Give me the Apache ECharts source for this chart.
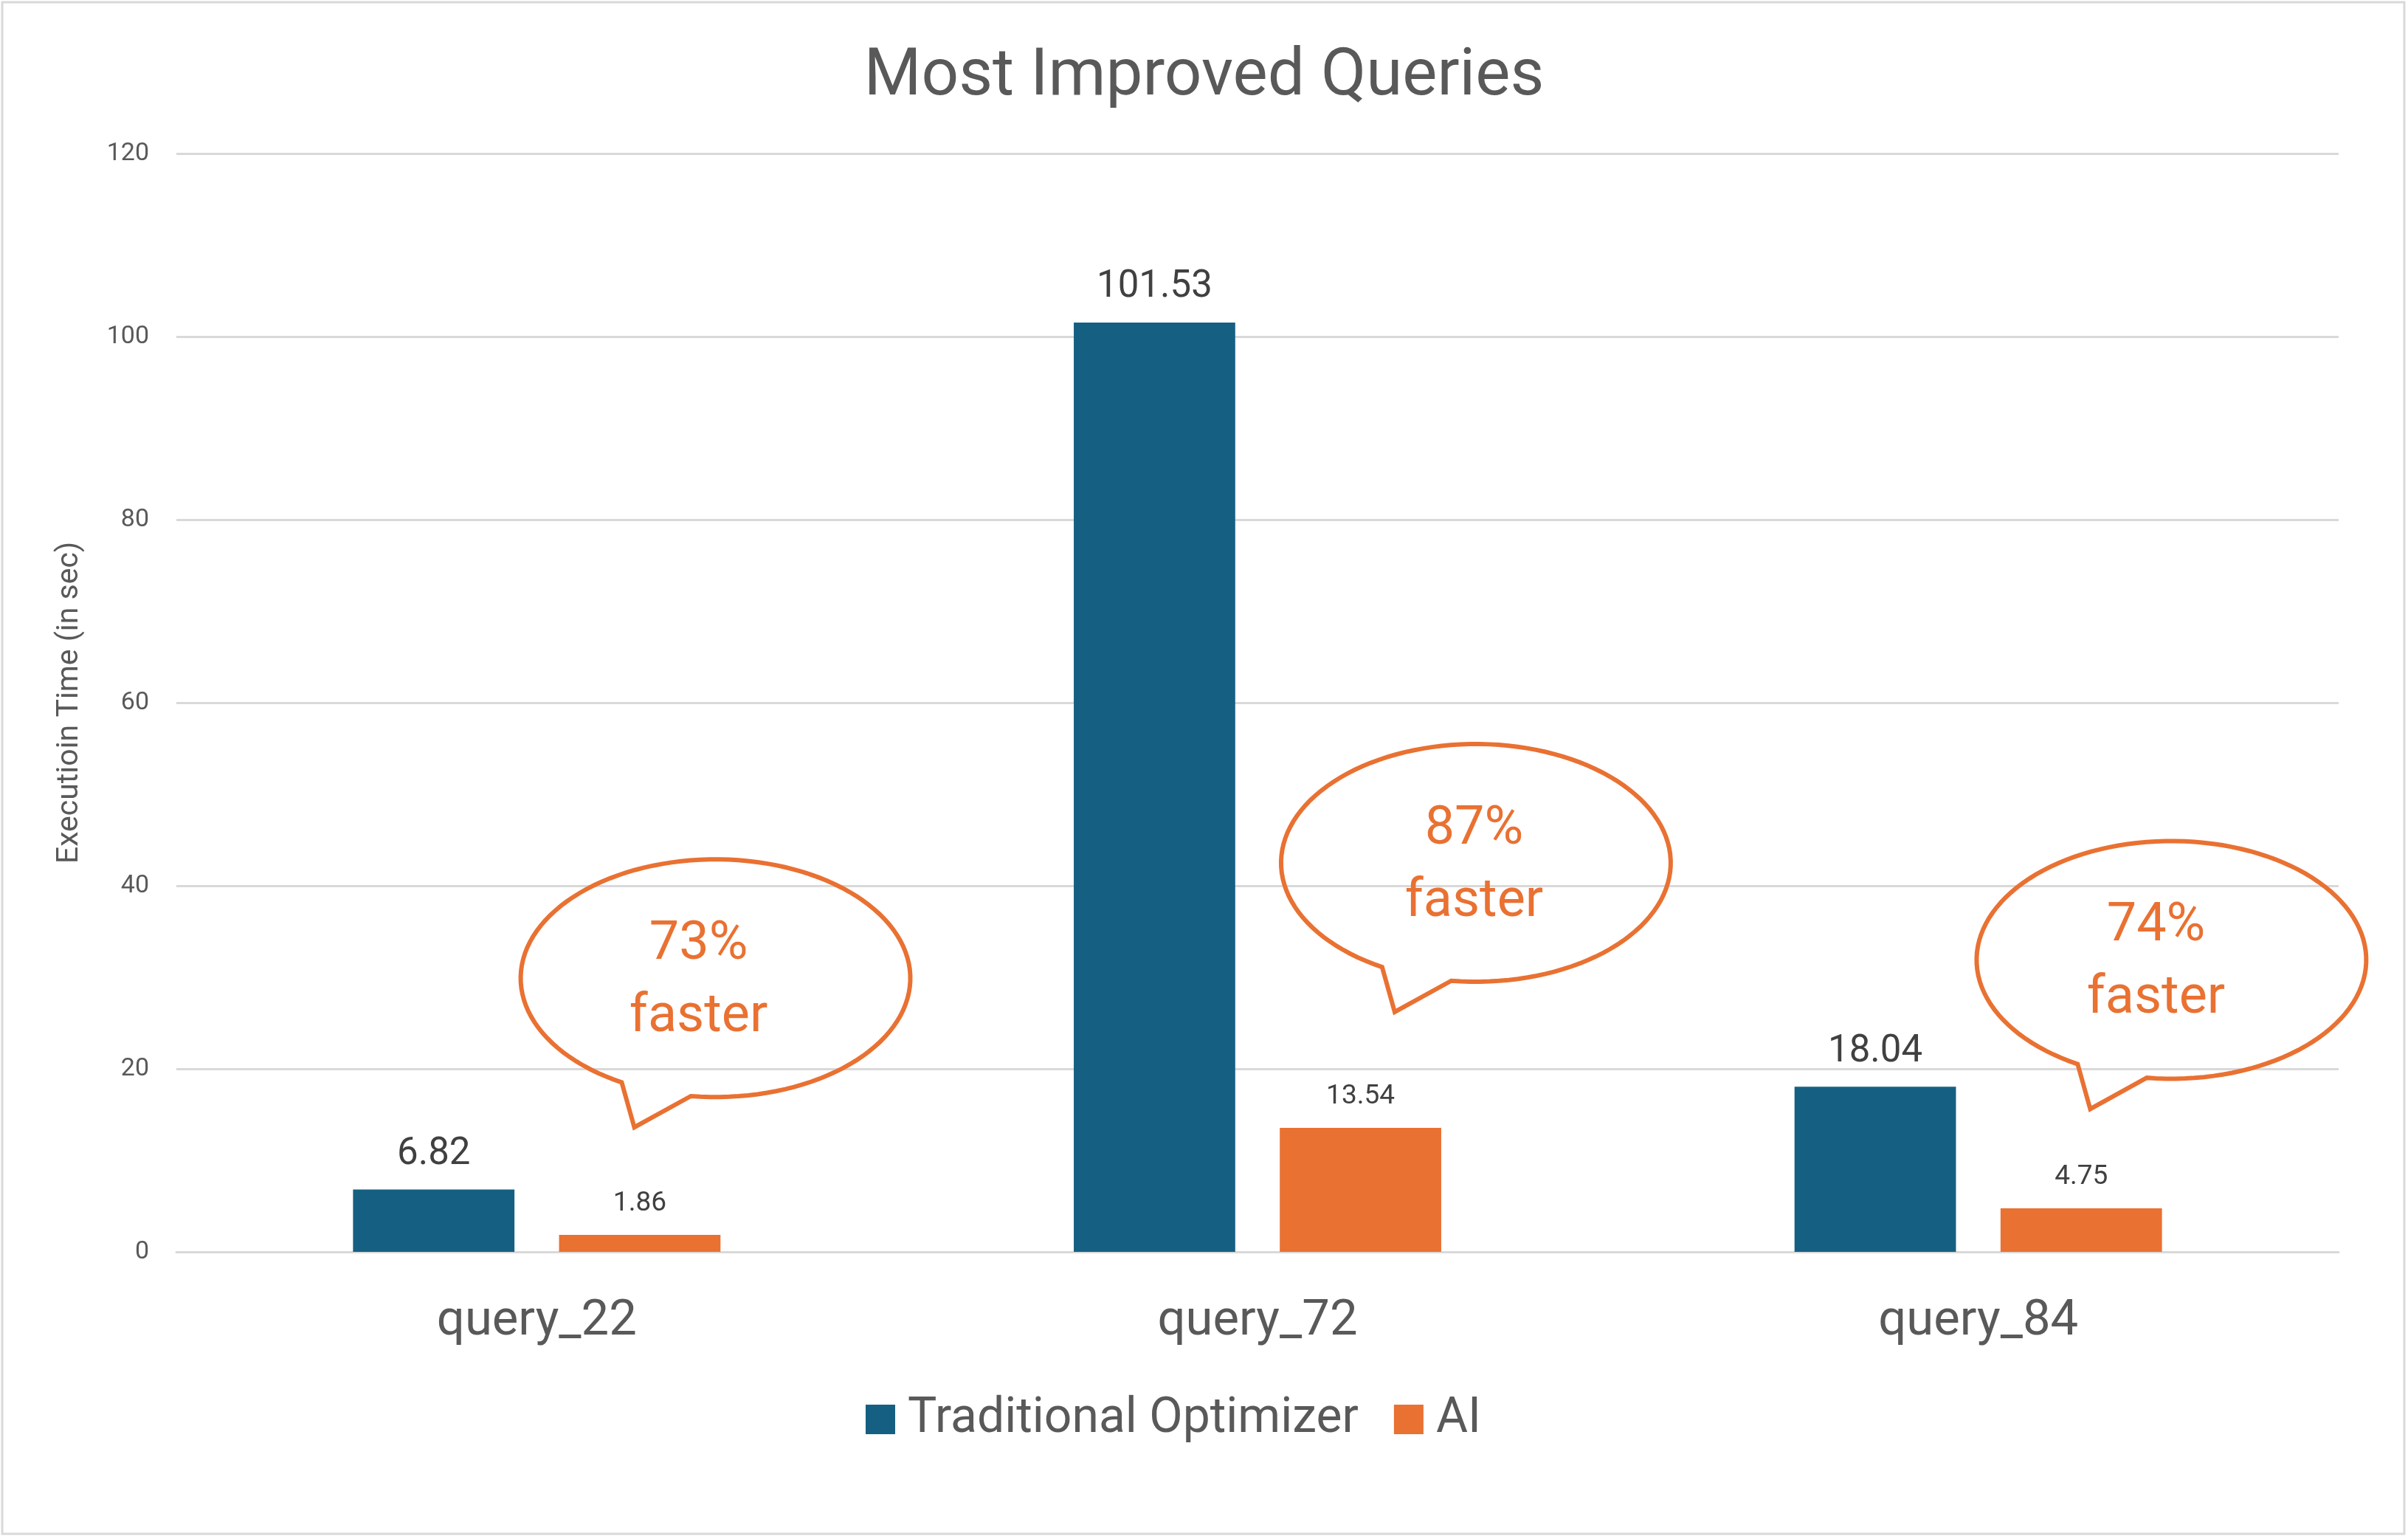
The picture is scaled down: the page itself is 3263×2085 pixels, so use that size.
<!DOCTYPE html>
<html><head><meta charset="utf-8">
<script src="https://cdn.jsdelivr.net/npm/echarts@6/dist/echarts.min.js"></script>
<style>html,body{margin:0;padding:0;background:#fff}#c{width:3263px;height:2085px}</style>
</head><body><div id="c"></div>
<script>
const categories = ['query_22', 'query_72', 'query_84'];
const traditional = [6.82, 101.53, 18.04];
const ai = [1.86, 13.54, 4.75];
const yMin = 0, yMax = 120, yStep = 20;
// speech-bubble annotations, anchored in axis units (x: category bands, y: seconds)
const bubbleX = [0.748, 1.803, 2.768];
const bubbleY = [29.9, 42.5, 31.9];
const bubbleTextX = [0.7245, 1.8005, 2.7466];
const bubbleLine1 = ['73%', '87%', '74%'];
const bubbleLine2 = ['faster', 'faster', 'faster'];

const FONT = 'Roboto, "Noto Sans", sans-serif';
const BLUE = '#156082', ORANGE = '#E97132', GREY = '#595959', LABEL = '#404040';

const chart = echarts.init(document.getElementById('c'));

function renderBubble(params, api) {
  const idx = api.value(2);
  const c = api.coord([api.value(0), api.value(1)]);
  const tc = api.coord([bubbleTextX[idx], api.value(1)]);
  const rx = 264, ry = 161;
  const A = [-127, 141], tip = [-110, 202], B = [-33, 158];
  const tA = Math.atan2(A[1] / ry, A[0] / rx);
  const tB = Math.atan2(B[1] / ry, B[0] / rx) + Math.PI * 2;
  const pts = [];
  const N = 120;
  for (let i = 0; i <= N; i++) {
    const t = tA + (tB - tA) * i / N;
    pts.push([c[0] + rx * Math.cos(t), c[1] + ry * Math.sin(t)]);
  }
  pts.push([c[0] + tip[0], c[1] + tip[1]]);
  return {
    type: 'group',
    children: [
      { type: 'polygon', shape: { points: pts },
        style: { fill: 'none', stroke: ORANGE, lineWidth: 6, lineJoin: 'miter' } },
      { type: 'text',
        style: { text: bubbleLine1[idx] + '\n' + bubbleLine2[idx], x: tc[0], y: c[1] + 5,
          align: 'center', verticalAlign: 'middle', fontSize: 72, lineHeight: 98,
          fill: ORANGE, fontFamily: FONT } }
    ]
  };
}

chart.setOption({
  animation: false,
  backgroundColor: '#ffffff',
  textStyle: { fontFamily: FONT },
  title: {
    text: 'Most Improved Queries', left: 'center', top: 56,
    textStyle: { fontSize: 89, fontWeight: 'normal', color: GREY, fontFamily: FONT }
  },
  graphic: [{
    type: 'rect', shape: { x: 3, y: 3, width: 3255, height: 2075 },
    style: { fill: 'none', stroke: '#D9D9D9', lineWidth: 3 }, silent: true
  }],
  legend: {
    data: ['Traditional Optimizer', 'AI'],
    left: 1168, top: 1885,
    itemWidth: 40, itemHeight: 40, itemGap: 48,
    icon: 'rect',
    textStyle: { fontSize: 66, color: GREY, fontFamily: FONT, padding: [0, 0, 0, 12] }
  },
  grid: { left: 239, right: 94, top: 208, bottom: 389, containLabel: false },
  xAxis: [{
    type: 'category', data: categories,
    axisLine: { lineStyle: { color: '#D9D9D9', width: 3 } },
    axisTick: { show: false },
    axisLabel: { fontSize: 67, color: GREY, margin: 62, fontFamily: FONT }
  }, {
    type: 'value', min: 0, max: 3, show: false
  }],
  yAxis: {
    type: 'value', min: yMin, max: yMax, interval: yStep,
    name: 'Executioin Time (in sec)', nameLocation: 'middle', nameGap: 124, nameRotate: 90,
    nameTextStyle: { fontSize: 41, color: GREY, fontFamily: FONT },
    axisLine: { show: false }, axisTick: { show: false },
    axisLabel: { fontSize: 34, color: GREY, margin: 37, fontFamily: FONT },
    splitLine: { lineStyle: { color: '#D9D9D9', width: 3 } }
  },
  series: [{
    name: 'Traditional Optimizer', type: 'bar', data: traditional,
    barWidth: '22.4%', barGap: '27.6%',
    itemStyle: { color: BLUE },
    label: { show: true, position: 'top', distance: 22, fontSize: 51, color: LABEL, fontFamily: FONT }
  }, {
    name: 'AI', type: 'bar', data: ai,
    barWidth: '22.4%', barGap: '27.6%',
    itemStyle: { color: ORANGE },
    label: { show: true, position: 'top', distance: 24, fontSize: 37, color: LABEL, fontFamily: FONT }
  }, {
    name: 'bubbles', type: 'custom', xAxisIndex: 1, yAxisIndex: 0,
    data: bubbleX.map((x, i) => [x, bubbleY[i], i]),
    encode: { x: 0, y: 1 },
    renderItem: renderBubble, silent: true, z: 5
  }]
});
</script></body></html>
